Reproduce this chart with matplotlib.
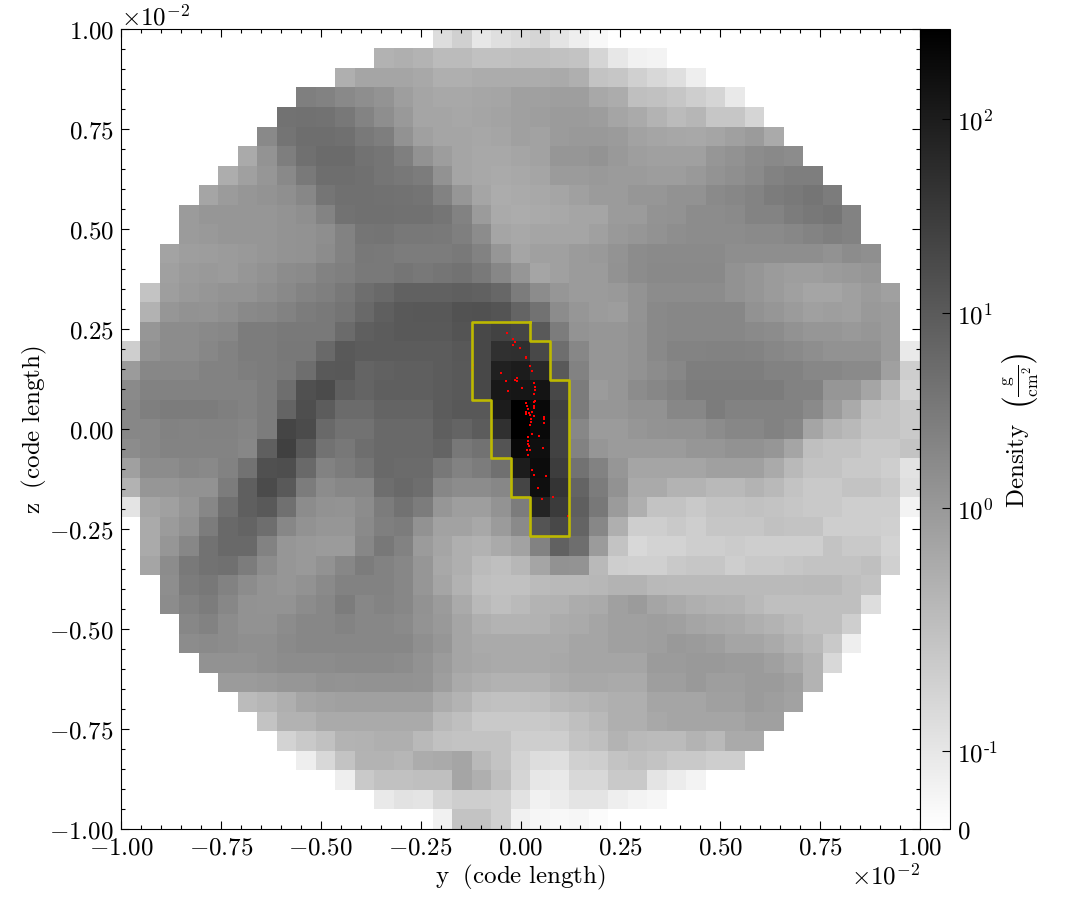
import numpy as np
import matplotlib
matplotlib.use("Agg")
import matplotlib.pyplot as plt
from matplotlib.colors import SymLogNorm
from matplotlib.ticker import ScalarFormatter, MultipleLocator, NullLocator

plt.rcParams['font.family'] = ['cmr10', 'DejaVu Serif']
plt.rcParams['mathtext.fontset'] = 'cm'
plt.rcParams['mathtext.default'] = 'rm'
plt.rcParams['axes.formatter.use_mathtext'] = True
plt.rcParams['axes.unicode_minus'] = False

# projected density, one list per image row from the top, first column in row_start
row_start = [16, 13, 11, 9, 8, 7, 6, 5, 4, 3, 3, 2, 2, 1, 1, 1, 0, 0, 0, 0, 0,
             0, 0, 0, 0, 1, 1, 1, 2, 2, 3, 3, 4, 5, 6, 7, 8, 9, 11, 13, 16]
density_rows = [
    [.14, .19, .10, .13, .15, .17, .11, .07, .03],
    [.40, .44, .37, .28, .28, .25, .25, .26, .26, .25, .24, .17, .10, .06, .05],
    [.44, .64, .64, .64, .57, .44, .44, .49, .49, .49, .49, .53, .44, .24, .23, .19, .16, .13, .07],
    [2.55, 2.35, 1.8, 1.5, 1.25, .83, .64, .57, .57, .62, .64, .77,
     .77, .83, .83, .57, .49, .26, .25, .23, .20, .17, .09],
    [4.1, 4.4, 4.1, 3.4, 2.2, 1.5, .99, .64, .64, .6, .64, .68, .77,
     .83, .92, .92, .86, .64, .53, .37, .28, .34, .23, .23, .17],
    [1.8, 3.85, 4.9, 4.9, 4.6, 3.2, 2.65, 1.3, .77, .64, .64, .6, .64, .77,
     .71, .92, 1.0, 1.0, .92, .71, .64, .6, .57, .64, .77, .92, .53],
    [.53, 1.25, 2.65, 4.6, 5.4, 5.4, 4.1, 3.7, 2.55, 1.3, .86, .64, .57, .57, .64,
     .71, 1.1, 1.1, 1.2, 1.0, .83, .77, .77, .77, 1.1, 1.3, 1.6, 1.8, 1.6],
    [.47, .77, 1.1, 1.8, 3.2, 4.9, 4.9, 4.6, 3.7, 3.4, 2.85, 1.3, .64, .57, .53, .57,
     .64, .92, .92, 1.0, .92, .92, .86, .86, 1.0, 1.2, 1.45, 1.75, 2.35, 2.65, 2.65],
    [.64, .92, 1.1, 1.25, 1.45, 1.95, 3.7, 4.6, 4.6, 4.4, 4.1, 3.85, 2.35, 1.1, .64, .49, .53,
     .57, .64, .77, .92, .92, 1.1, 1.1, 1.3, 1.3, 1.75, 1.95, 2.2, 2.85, 3.2, 3.7, 2.85],
    [.92, 1.1, 1.1, 1.1, 1.1, 1.2, 1.45, 2.2, 4.1, 4.6, 4.6, 4.4, 4.4, 3.7, 2.35, .92, .53, .49,
     .53, .57, .64, .64, .92, .92, 1.2, 1.3, 1.6, 1.6, 1.75, 2.2, 2.2, 2.85, 3.4, 3.7, 2.35],
    [.92, 1.0, 1.1, 1.1, 1.1, 1.2, 1.3, 1.5, 2.35, 3.7, 3.85, 3.4, 3.4, 3.2, 2.55, 1.6, .64, .57,
     .64, .64, .64, .77, 1.0, 1.1, 1.3, 1.5, 1.6, 1.6, 1.6, 1.75, 1.75, 1.95, 2.2, 2.55, 2.35],
    [.68, .83, .86, .92, 1.0, 1.1, 1.2, 1.3, 1.6, 2.35, 3.4, 3.2, 2.85, 2.85, 2.85, 3.1, 2.35, 1.1, .64,
     .77, .77, .92, 1.0, 1.2, 1.6, 1.75, 1.75, 1.75, 1.75, 1.5, 1.5, 1.5, 1.5, 1.5, 1.3, 1.6, 1.45],
    [.77, .92, .99, .92, 1.1, 1.3, 1.6, 1.75, 2.35, 2.55, 3.2, 3.2, 3.7, 3.4, 3.7, 4.1, 3.2, 1.95, 1.1,
     .64, .77, .92, .92, 1.3, 1.6, 1.8, 1.8, 1.8, 1.8, 1.3, 1.1, .92, .83, .83, .92, 1.0, 1.1],
    [.24, .83, 1.0, 1.1, 1.2, 1.2, 1.5, 1.8, 2.2, 2.55, 3.4, 4.9, 5.9, 7.7, 7.7, 7.7, 8.6, 7.7, 6.4, 2.85,
     1.6, 1.1, .92, .92, 1.0, 1.2, 1.6, 1.6, 1.6, 1.6, 1.3, 1.1, .92, .77, .64, .64, .77, .92, .77],
    [.40, 1.1, 1.3, 1.25, 1.45, 1.8, 1.95, 2.35, 2.85, 3.2, 3.85, 5.9, 8.6, 10, 11, 11, 13, 14, 12.5, 7.1,
     4.1, 1.6, 1.1, .92, .86, 1.25, 1.8, 1.95, 1.95, 1.95, 1.95, 1.3, 1.1, .92, .77, .83, .77, 1.0, .92],
    [1.1, 1.6, 1.6, 1.8, 1.95, 2.85, 2.85, 3.2, 3.2, 3.2, 5.4, 8.6, 9.3, 10, 10, 10, 12.5, 20, 24, 22,
     10, 2.85, 1.2, 1.1, 1.1, 1.3, 1.8, 1.95, 1.95, 1.95, 1.95, 1.75, 1.6, 1.3, 1.1, 1.1, 1.0, 1.1, .92],
    [.20, 1.3, 1.6, 1.6, 1.95, 2.35, 2.85, 2.85, 3.4, 3.4, 5.9, 10, 9.6, 9.6, 9.6, 9.6, 9.6, 11, 20, 46, 49,
     20, 4.9, 1.95, 1.1, 1.1, 1.3, 1.8, 2.2, 2.2, 2.35, 2.35, 2.2, 1.95, 1.75, 1.5, 1.3, 1.3, 1.3, .92, .09],
    [.92, 1.95, 1.95, 1.95, 2.35, 2.35, 2.65, 2.85, 3.2, 4.9, 10, 11, 7.1, 7.7, 8.6, 8.6, 9.6, 10, 20, 86, 100,
     60, 10, 2.35, 1.1, 1.1, 1.3, 1.6, 1.95, 2.65, 2.65, 2.65, 2.65, 2.35, 2.35, 1.95, 1.95, 1.75, 1.75, .77, .20],
    [1.75, 2.35, 2.35, 2.35, 2.35, 2.35, 2.35, 2.85, 4.9, 15, 18, 8.6, 7.1, 8.6, 8.6, 8.6, 9.6, 10, 20, 112, 125,
     135, 20, 2.85, .92, 1.1, 1.6, 1.95, 2.35, 2.85, 2.85, 2.85, 2.85, 2.85, 2.35, 2.35, 1.1, 1.1, .64, .31, .18],
    [1.95, 2.55, 2.85, 2.85, 2.85, 2.55, 2.35, 2.85, 7.1, 16, 9.6, 5.4, 5.4, 7.1, 7.1, 7.1, 9.6, 11, 11, 100, 288,
     195, 27, 2.85, 1.1, 1.1, 1.3, 1.3, 1.95, 1.95, 2.85, 2.35, 2.35, 2.35, 2.35, 1.75, .92, .53, .26, .24, .22],
    [1.95, 1.95, 2.35, 2.2, 2.35, 2.35, 2.1, 2.85, 22, 18, 5.9, 4.1, 4.1, 5.9, 5.9, 5.9, 8.6, 7.1, 9.6, 46, 288,
     195, 24, 1.95, .92, .92, 1.1, 1.2, 1.3, 1.3, 1.6, 1.95, 1.95, 2.35, 1.95, .64, .37, .31, .24, .24, .22],
    [1.6, 1.95, 2.2, 2.2, 2.2, 2.2, 1.95, 8.6, 27, 10, 4.1, 3.4, 4.9, 5.9, 5.9, 5.9, 7.1, 3.4, 4.1, 12.5, 210,
     165, 24, 2.35, 1.1, .92, .92, .92, .92, 1.1, 1.1, 1.3, 1.3, 1.1, .64, .26, .24, .24, .22, .22, .24],
    [.77, 1.6, 1.6, 1.95, 1.8, 2.35, 4.1, 15, 16, 5.9, 2.35, 2.85, 3.7, 5.9, 5.4, 5.4, 3.4, 2.35, 2.85, 4.6, 100,
     180, 30, 4.1, 2.35, 1.1, .64, .64, .64, .64, .77, .77, .77, .53, .31, .24, .24, .22, .22, .20, .12],
    [.40, 1.1, 1.1, 1.3, 1.3, 2.85, 8.6, 18, 10, 2.85, 1.6, 1.95, 1.95, 4.9, 5.9, 4.9, 1.95, 1.6, 1.6, 1.95, 22,
     165, 42, 7.1, 2.85, 1.3, .53, .53, .37, .37, .31, .31, .37, .31, .24, .22, .22, .24, .24, .22, .13],
    [.11, .64, .77, 1.1, 1.95, 4.6, 8.6, 10, 4.6, 1.6, 1.3, 1.2, 1.6, 2.85, 4.1, 2.85, 1.1, .83, .83, 1.2, 2.85,
     75, 32, 8.6, 3.4, .92, .44, .24, .24, .22, .24, .24, .25, .24, .23, .22, .22, .20, .20, .20, .05],
    [.53, .92, 1.3, 2.85, 5.9, 7.1, 4.9, 1.95, 1.3, 1.1, 1.1, 1.75, 2.55, 2.85, 1.3, .71, .71, .57, .92, 1.75,
     12.5, 20, 7.1, 1.95, .44, .20, .20, .22, .20, .23, .23, .23, .25, .24, .24, .20, .20, .20, .19],
    [.53, 1.1, 1.95, 4.1, 5.9, 5.9, 2.35, 1.1, 1.0, .92, .92, 1.95, 3.4, 2.35, .92, .64, .44, .40, .53, .71,
     2.35, 8, 4.9, .92, .24, .16, .18, .18, .20, .20, .21, .20, .20, .20, .20, .24, .22, .22, .18],
    [.64, 1.6, 3.2, 4.1, 4.6, 2.85, 1.6, 1.1, 1.0, 1.3, 1.95, 2.85, 2.35, 1.95, 1.1, .57, .44, .28, .26, .33,
     .64, 1.3, 1.2, .31, .20, .19, .19, .22, .23, .23, .20, .22, .22, .23, .24, .24, .24, .26, .19],
    [1.5, 2.85, 3.4, 2.35, 1.6, 1.2, 1.1, 1.3, 1.75, 2.35, 2.35, 2.35, 1.95, 1.1, .64, .40, .26, .25, .25,
     .28, .31, .31, .33, .37, .37, .31, .29, .29, .29, .29, .29, .29, .29, .31, .31, .26, .24],
    [1.6, 2.35, 2.85, 1.95, 1.3, 1.2, 1.2, 1.6, 1.95, 2.85, 1.95, 2.2, 1.95, 1.3, .92, .53, .31, .26, .29,
     .37, .40, .49, .53, .77, .92, .64, .53, .44, .40, .37, .31, .26, .26, .26, .26, .26, .14],
    [1.95, 2.35, 1.6, 1.3, 1.3, 1.6, 1.95, 1.95, 2.2, 1.95, 1.95, 1.75, 1.2, 1.0, .64, .44, .37, .38,
     .40, .49, .53, .64, .77, .77, .83, .77, .64, .57, .53, .44, .37, .31, .26, .26, .20],
    [1.6, 1.75, 1.6, 1.45, 1.45, 1.75, 1.95, 1.95, 1.95, 1.95, 1.95, 1.95, 1.45, 1.1, .64, .53, .53, .53,
     .53, .53, .64, .64, .77, .77, .83, 1.0, .92, .83, .64, .64, .53, .40, .31, .22, .07],
    [1.3, 1.3, 1.3, 1.45, 1.6, 1.6, 1.6, 1.75, 1.75, 1.75, 1.6, 1.3, .92, .64, .57, .53, .53,
     .53, .57, .64, .64, .64, .64, .92, .92, 1.0, 1.0, .92, .92, .77, .57, .37, .16],
    [.92, .92, 1.0, 1.1, 1.1, 1.3, 1.2, 1.3, 1.3, 1.3, 1.2, .83, .53, .44, .40, .40,
     .40, .49, .57, .57, .53, .53, .83, .83, 1.0, .83, .83, .92, .92, .77, .37],
    [.28, .34, .44, .64, .71, .77, .77, .77, .77, .77, .49, .37, .26, .25, .25,
     .26, .31, .34, .37, .44, .44, .64, .64, .64, .77, .77, .92, .83, .71],
    [.24, .40, .40, .53, .53, .53, .53, .53, .53, .31, .26, .22, .22, .22,
     .22, .23, .26, .31, .44, .44, .57, .64, .64, .64, .64, .77, .77],
    [.18, .22, .25, .37, .40, .44, .44, .31, .25, .24, .24, .24, .20,
     .20, .20, .24, .26, .37, .31, .28, .28, .37, .31, .53, .53],
    [.07, .16, .24, .37, .37, .34, .49, .53, .64, .31, .24, .18,
     .14, .13, .19, .20, .24, .26, .24, .22, .22, .20, .20],
    [.07, .22, .25, .25, .26, .26, .64, .44, .26, .17,
     .10, .09, .16, .16, .22, .22, .11, .08, .05],
    [.09, .12, .11, .17, .20, .20, .19, .12, .06, .08, .11, .11, .07, .05, .04],
    [.06, .24, .24, .19, .06, .04, .03, .04, .02],
]

# clump outline: first and last grid column in each row, starting at clump_top_row
clump_top_row = 15
clump_first = [18, 18, 18, 18, 19, 19, 19, 20, 20, 21, 21]
clump_last = [20, 21, 21, 22, 22, 22, 22, 22, 22, 22, 22]

# particles, in units of 1e-2 code length
particles_y = [-.033, -.020, -.014, -.020, -.001, .013, .015, .024, .030, -.120, -.121, -.050, -.037,
               -.010, -.014, -.010, .005, -.032, .034, .036, .037, .035, .036, .035, .034, .033,
               .013, .016, .020, .014, .014, .021, .024, .030, .035, .027, .026, .025, .060, .059,
               .058, .029, .019, .046, .020, .020, .021, .016, .024, .020, .057, .030, .034, .065,
               .043, .053, .081, .118]
particles_z = [.239, .225, .217, .21, .2025, .181, .1775, .157, .144, .161, .1475, .139, .119,
               .128, .123, .12, .1025, .096, .115, .104, .0975, .0875, .071, .067, .058, .052,
               .065, .058, .05, .042, .037, .04, .035, .0425, .033, .025, .017, .009, .03, .024,
               .014, -.012, -.021, -.017, -.031, -.0375, -.042, -.052, -.0525, -.064, -.047, -.102,
               -.115, -.1175, -.147, -.175, -.171, -.217]

axis_ticks = [-1.0, -0.75, -0.5, -0.25, 0.0, 0.25, 0.5, 0.75, 1.0]
cbar_ticks = [0, 0.1, 1, 10, 100]
cbar_labels = ['$0$', r'$10^{\text{-}1}$', '$10^{0}$', '$10^{1}$', '$10^{2}$']

n = 41
width = 2e-2
scale = 1e-2
edge = width / n

grid = np.full((n, n), np.nan)
for i, row in enumerate(density_rows):
    grid[i, row_start[i]:row_start[i] + len(row)] = row

# outline goes down the right side and back up the left side
line_y = []
line_z = []
for i in range(len(clump_last)):
    r = clump_top_row + i
    x = -width / 2 + (clump_last[i] + 1) * edge
    line_y += [x, x]
    line_z += [width / 2 - r * edge, width / 2 - (r + 1) * edge]
for i in range(len(clump_first) - 1, -1, -1):
    r = clump_top_row + i
    x = -width / 2 + clump_first[i] * edge
    line_y += [x, x]
    line_z += [width / 2 - (r + 1) * edge, width / 2 - r * edge]
line_y.append(line_y[0])
line_z.append(line_z[0])

fig = plt.figure(figsize=(10.84, 9.2), dpi=100)
ax = fig.add_axes([121 / 1084, 90 / 920, 799 / 1084, 800 / 920])
cax = fig.add_axes([920 / 1084, 90 / 920, 30 / 1084, 800 / 920])

norm = SymLogNorm(linthresh=0.27, linscale=0.97, vmin=0, vmax=288, base=10)
im = ax.imshow(grid, cmap='gray_r', norm=norm, origin='upper', interpolation='nearest',
               extent=[-width / 2, width / 2, -width / 2, width / 2], aspect='auto')
ax.scatter(np.array(particles_y) * scale, np.array(particles_z) * scale, s=2, c='red',
           marker='s', linewidths=0, zorder=2)
ax.plot(line_y, line_z, color='#bdb900', lw=1.9, solid_joinstyle='round', zorder=3)

ax.set_xlim(-width / 2, width / 2)
ax.set_ylim(-width / 2, width / 2)
ax.set_xticks(np.array(axis_ticks) * scale)
ax.set_yticks(np.array(axis_ticks) * scale)
for axis in [ax.xaxis, ax.yaxis]:
    fmt = ScalarFormatter(useMathText=True)
    fmt.set_powerlimits((-2, -2))
    axis.set_major_formatter(fmt)
    axis.set_minor_locator(MultipleLocator(0.05 * scale))
    axis.get_offset_text().set_fontsize(18)
ax.tick_params(which='both', direction='in', top=True, right=True, labelsize=18, pad=5)
ax.tick_params(which='major', length=5.5, width=0.8)
ax.tick_params(which='minor', length=3, width=0.8)
ax.set_xlabel(r'$\mathrm{y}\ \ \mathrm{(code\ length)}$', fontsize=18, labelpad=3)
ax.set_ylabel(r'$\mathrm{z}\ \ \mathrm{(code\ length)}$', fontsize=18, labelpad=0)

cb = fig.colorbar(im, cax=cax)
cb.set_ticks(cbar_ticks)
cb.set_ticklabels(cbar_labels)
cax.yaxis.set_minor_locator(NullLocator())
cax.tick_params(direction='in', length=5.5, width=0.8, labelsize=18, pad=5)
cb.set_label(r'$\mathrm{Density}\ \ \left(\frac{\mathrm{g}}{\mathrm{cm}^{2}}\right)$', fontsize=18, labelpad=1)

fig.savefig('out.png', dpi=100)
